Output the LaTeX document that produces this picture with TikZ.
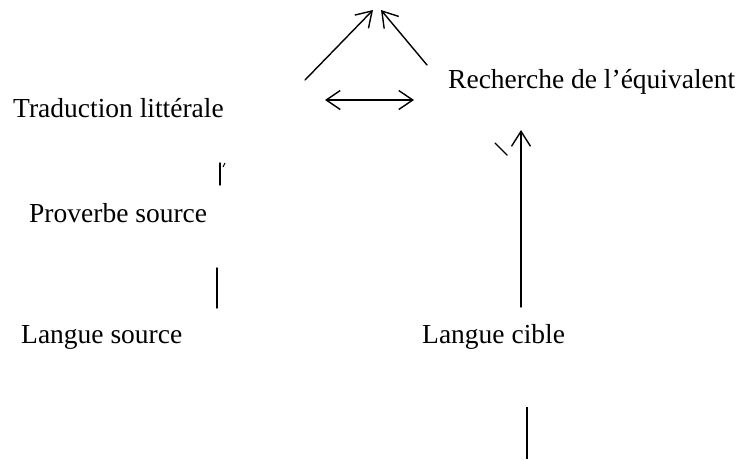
\documentclass[tikz,border=0pt]{standalone}
\usepackage{fontspec}
\setmainfont{Liberation Serif}
\usetikzlibrary{arrows.meta}
\begin{document}
\begin{tikzpicture}[x=1pt,y=-1pt,
  lbl/.style={anchor=base west,inner sep=0pt,font=\fontsize{27.5}{32}\selectfont},
  ln/.style={line width=1.4pt,line cap=round},
  arr/.style={ln,-{Straight Barb[length=15pt,width=19pt,line width=1.4pt]}},
  darr/.style={ln,{Straight Barb[length=14pt,width=19pt,line width=1.4pt]}-{Straight Barb[length=14pt,width=19pt,line width=1.4pt]}}]
\useasboundingbox (0,0) rectangle (743,459);
% labels
\node[lbl] (trad) at (13,117) {Traduction littérale};
\node[lbl] (rech) at (448,88) {Recherche de l’équivalent};
\node[lbl] (prov) at (29,222) {Proverbe source};
\node[lbl] (lsrc) at (21,343) {Langue source};
\node[lbl] (lcib) at (422,343) {Langue cible};
% connector end points
\coordinate (a1s) at (305,80);
\coordinate (a1e) at (373,10);
\coordinate (a2s) at (427,65);
\coordinate (a2e) at (381,10);
\coordinate (d1) at (325,100);
\coordinate (d2) at (414,100);
\coordinate (t1s) at (220,185);
\coordinate (t1e) at (220,163);
\coordinate (k1s) at (223,167);
\coordinate (k1e) at (225,163);
\coordinate (v1s) at (217,268);
\coordinate (v1e) at (217,308);
\coordinate (c1s) at (521,307);
\coordinate (c1e) at (521,130);
\coordinate (k2s) at (495,143);
\coordinate (k2e) at (507,155);
\coordinate (b1s) at (527,407);
\coordinate (b1e) at (527,459);
% connectors
\draw[arr] (a1s) -- (a1e);
\draw[arr] (a2s) -- (a2e);
\draw[darr] (d1) -- (d2);
\draw[ln] (t1s) -- (t1e);
\draw[line width=1pt] (k1s) -- (k1e);
\draw[ln] (v1s) -- (v1e);
\draw[arr] (c1s) -- (c1e);
\draw[ln] (k2s) -- (k2e);
\draw[line width=1.4pt] (b1s) -- (b1e);
\end{tikzpicture}
\end{document}
